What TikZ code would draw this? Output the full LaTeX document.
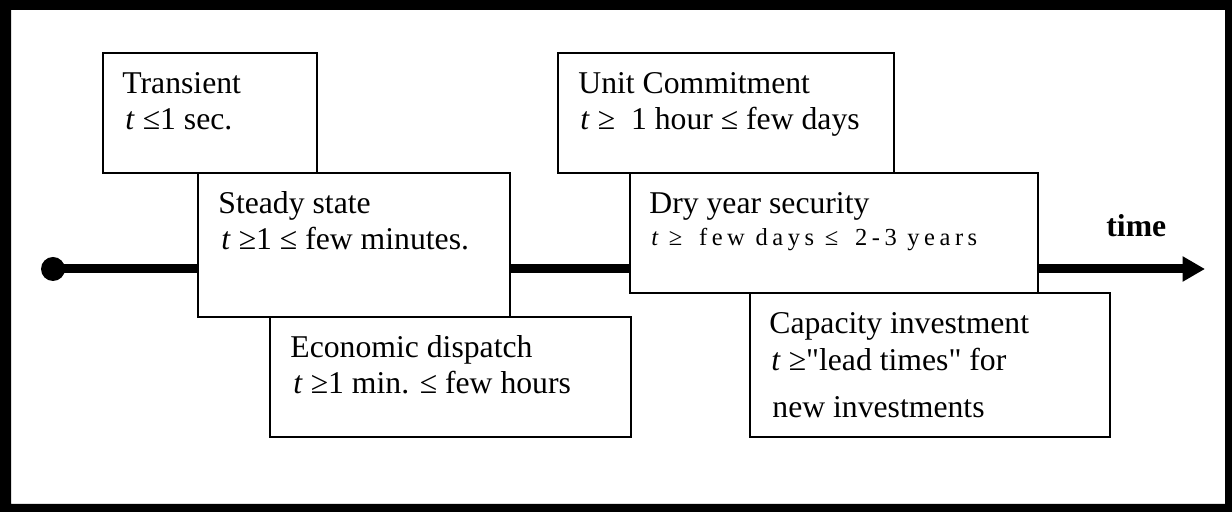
\documentclass[tikz,border=0pt]{standalone}
\usepackage{fontspec}
\setmainfont{Liberation Serif}
\usetikzlibrary{arrows.meta}
\newcommand\drysp[1]{{#1}\kern2.27pt}
\newcommand\straightdq{\XeTeXglyph\XeTeXcharglyph"22\relax}
\begin{document}
\begin{tikzpicture}[x=0.5pt,y=-0.5pt,
  box/.style={draw=black, line width=1pt, fill=white, anchor=north west, inner sep=0pt, outer sep=0pt},
  txt/.style={anchor=base west, inner sep=0pt, font=\fontsize{15.85pt}{18pt}\selectfont},
  smalltxt/.style={anchor=base west, inner sep=0pt, font=\fontsize{12.25pt}{14pt}\selectfont},
  axisline/.style={line width=4.5pt, -{Triangle[length=11.25pt,width=12pt]}}]
\useasboundingbox (0,0) rectangle (1232,512);
% outer frame
\fill[black, even odd rule] (0,0) rectangle (1232,512) (11,10) rectangle (1225,504);
% timeline
\node[circle, fill=black, inner sep=0pt, minimum size=12pt] (start) at (53,269) {};
\coordinate (end) at (1205,269);
\draw[axisline] (start.center) -- (end);
% boxes
\node[box, minimum width=107pt, minimum height=60pt] (trans) at (103,53) {};
\node[box, minimum width=156pt, minimum height=72pt] (steady) at (198,173) {};
\node[box, minimum width=180.5pt, minimum height=60pt] (econ) at (270,317) {};
\node[box, minimum width=168pt, minimum height=60pt] (unit) at (558,53) {};
\node[box, minimum width=204pt, minimum height=60pt] (dry) at (630,173) {};
\node[box, minimum width=180pt, minimum height=72pt] (cap) at (750,293) {};
% texts
\node[txt] (transA) at (122,94) {Transient};
\node[txt] (transB) at (125,130) {\textit{t} ≤1 sec.};
\node[txt] (steadyA) at (218,214) {Steady state};
\node[txt] (steadyB) at (221,250) {\textit{t} ≥1 ≤ few minutes.};
\node[txt] (econA) at (290,358) {Economic dispatch};
\node[txt] (econB) at (293,394) {\textit{t} ≥1 min. ≤ few hours};
\node[txt] (unitA) at (578,94) {Unit Commitment};
\node[txt] (unitB) at (580,130) {\textit{t} ≥\ \ 1 hour ≤ few days};
\node[txt] (dryA) at (649,214) {Dry year security};
\node[smalltxt] (dryB) at (651,246) {\drysp{\itshape t}\ \drysp{≥}\ \ \drysp{f}\drysp{e}\drysp{w}\ \drysp{d}\drysp{a}\drysp{y}\drysp{s}\ \drysp{≤}\ \ \drysp{2}\drysp{-}\drysp{3}\ \drysp{y}\drysp{e}\drysp{a}\drysp{r}s};
\node[txt] (capA) at (769,334) {Capacity investment};
\node[txt] (capB) at (771,371) {\textit{t} ≥\straightdq lead times\straightdq{} for};
\node[txt] (capC) at (772,418) {new investments};
\node[txt, font=\fontsize{15.85pt}{18pt}\selectfont\bfseries] (timelabel) at (1106,237) {time};
\end{tikzpicture}
\end{document}
